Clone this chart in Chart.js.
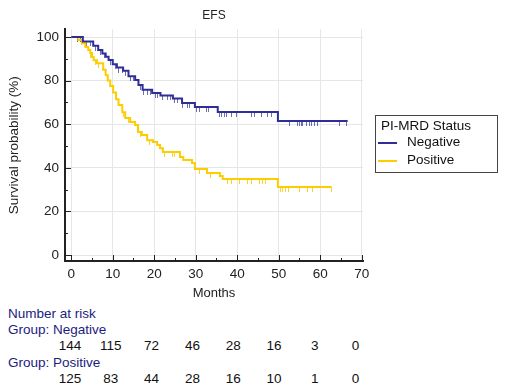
<!DOCTYPE html>
<html>
<head>
<meta charset="utf-8">
<script src="https://cdn.jsdelivr.net/npm/chart.js@4.4.1/dist/chart.umd.min.js"></script>
<style>
  body { margin: 0; background: #fff; font-family: "Liberation Sans", Arial, sans-serif; }
  #wrap { position: relative; width: 520px; height: 390px; overflow: hidden; }
  #plot { position: absolute; left: 0; top: 0; width: 520px; height: 304px; }
  .t { position: absolute; font-size: 13.5px; line-height: 16px; white-space: nowrap; color: #111; }
  .lab { color: #1c1c80; }
  .num { transform: translateX(-50%); }
  #legend { position: absolute; left: 375px; top: 115px; width: 121px; height: 56px; border: 1px solid #444; }
  #legend .sw { position: absolute; left: 2px; width: 19px; height: 2px; }
</style>
</head>
<body>
<div id="wrap">
  <div id="plot"><canvas id="km"></canvas></div>
  <div id="legend"></div>
  <div id="risk"></div>
</div>
<script>
// Kaplan-Meier steps (months, survival %)
const negTimes = [0, 2.8, 5.3, 6.5, 7.5, 8.3, 9, 10, 11, 12.5, 13.8, 15.4, 16.2, 17.2, 19.5, 21.5, 24.5, 26.7, 29.8, 35.3, 49.8, 66.6];
const negSurv  = [100, 98, 96, 94, 92.5, 91, 89.5, 87.5, 86, 84.5, 82, 80.3, 78, 75.8, 74.3, 73.2, 71.8, 69.7, 67.9, 65.6, 61.5, 61.5];
const posTimes = [0, 1.7, 2.6, 3.4, 4.1, 4.6, 5.0, 5.4, 6.2, 7.7, 8.3, 8.8, 9.4, 10.1, 10.8, 11.4, 12.3, 13.0, 14.2, 15.4, 16.1, 17.0, 18.3, 19.7, 20.7, 21.4, 22.1, 26.2, 27.0, 29.1, 29.8, 32.7, 35.8, 36.5, 49.8, 62.7];
const posSurv  = [100, 98.6, 97.2, 95.4, 94, 92.7, 90.8, 89.4, 88, 85, 82.5, 80, 77.5, 74.5, 71.5, 68.8, 65.5, 62.8, 61, 59.6, 56.4, 55, 52.7, 51.8, 50.5, 49, 47.2, 45, 43.6, 42.2, 39.4, 37.6, 36.2, 34.9, 31.2, 31.2];

// censored times (months)
const negCensored = [1.4, 2.2, 3.8, 4.6, 5.8, 7.0, 7.9, 9.4, 10.6, 11.5, 12.3, 13.0, 14.2, 15.0, 16.6, 17.5, 18.3, 19.0, 20.2, 20.9, 22.1, 23.3, 23.8, 25.0, 25.7, 26.9, 28.1, 28.6, 30.3, 31.0, 32.7, 33.0, 35.8, 36.3, 37.0, 37.5, 38.7, 39.9, 43.5, 44.2, 45.9, 47.4, 48.3, 52.6, 54.6, 55.0, 55.5, 55.8, 56.7, 57.5, 58.0, 58.6, 59.4, 64.7, 66.3];
const posCensored = [1.5, 2.5, 4.6, 5.8, 6.5, 8.2, 12.6, 13.7, 15.9, 16.6, 18.8, 22.5, 24.5, 25.0, 31.0, 33.5, 37.7, 38.7, 40.6, 42.5, 43.5, 45.4, 46.2, 46.9, 50.5, 51.0, 51.7, 52.4, 55.0, 57.0, 58.2, 62.7];

const groups = ['Negative', 'Positive'];
const xTicks = [0, 10, 20, 30, 40, 50, 60, 70];
const yTicks = [0, 20, 40, 60, 80, 100];

// number at risk
const riskTimes = [0, 10, 20, 30, 40, 50, 60, 70];
const riskNegative = [144, 115, 72, 46, 28, 16, 3, 0];
const riskPositive = [125, 83, 44, 28, 16, 10, 1, 0];

const NAVY = '#2e2e96';
const GOLD = '#ffcc00';
const FONT = '"Liberation Sans", Arial, sans-serif';

function survAt(times, surv, t) {
    let s = surv[0];
    for (let i = 0; i < times.length; i++) if (times[i] <= t) s = surv[i];
    return s;
}

function tickMark(color) {
    const c = document.createElement('canvas');
    c.width = 1; c.height = 10;
    const g = c.getContext('2d');
    g.fillStyle = color;
    g.fillRect(0, 5, 1, 5);
    return c;
}

const innerTicks = {
    id: 'innerTicks',
    afterDraw(chart) {
        const { ctx, chartArea: a, scales: { x, y } } = chart;
        ctx.save();
        ctx.strokeStyle = '#222';
        ctx.lineWidth = 1;
        ctx.beginPath();
        for (let v = 0; v <= 70; v += 5) {
            const p = Math.round(x.getPixelForValue(v)) + 0.5;
            ctx.moveTo(p, a.bottom);
            ctx.lineTo(p, a.bottom - (v % 10 === 0 ? 6 : 3));
        }
        for (let v = 0; v <= 100; v += 10) {
            const p = Math.round(y.getPixelForValue(v)) + 0.5;
            ctx.moveTo(a.left, p);
            ctx.lineTo(a.left + (v % 20 === 0 ? 6 : 3), p);
        }
        ctx.stroke();
        ctx.restore();
    }
};

new Chart(document.getElementById('km'), {
    type: 'line',
    data: {
        datasets: [
            {
                label: groups[0],
                data: negTimes.map((t, i) => ({ x: t, y: negSurv[i] })),
                borderColor: NAVY, borderWidth: 2, stepped: 'before', pointRadius: 0, fill: false
            },
            {
                label: groups[1],
                data: posTimes.map((t, i) => ({ x: t, y: posSurv[i] })),
                borderColor: GOLD, borderWidth: 2, stepped: 'before', pointRadius: 0, fill: false
            },
            {
                label: groups[0] + ' censored', type: 'scatter',
                data: negCensored.map(t => ({ x: t, y: survAt(negTimes, negSurv, t) })),
                pointStyle: tickMark('rgba(60,60,160,0.75)'), showLine: false
            },
            {
                label: groups[1] + ' censored', type: 'scatter',
                data: posCensored.map(t => ({ x: t, y: survAt(posTimes, posSurv, t) })),
                pointStyle: tickMark('rgba(245,200,0,0.8)'), showLine: false
            }
        ]
    },
    options: {
        responsive: true,
        maintainAspectRatio: false,
        animation: false,
        layout: { padding: { right: 157, top: 0, bottom: 0, left: 0 } },
        plugins: {
            legend: { display: false },
            tooltip: { enabled: false },
            title: {
                display: true, text: 'EFS', fullSize: false, color: '#222',
                font: { family: FONT, size: 12, weight: 'normal' },
                padding: { top: 8, bottom: 7 }
            }
        },
        scales: {
            x: {
                type: 'linear', min: -1.5, max: 70.3,
                afterBuildTicks: s => { s.ticks = xTicks.map(v => ({ value: v })); },
                afterFit: s => { s.height = 43; },
                grid: { color: '#e6e6e6', drawTicks: false },
                border: { color: '#222', width: 2 },
                ticks: { color: '#222', padding: 5, font: { family: FONT, size: 13.5 } },
                title: {
                    display: true, text: 'Months', color: '#222',
                    font: { family: FONT, size: 13 }, padding: { top: 3, bottom: 3 }
                }
            },
            y: {
                min: -2.75, max: 103.5,
                afterBuildTicks: s => { s.ticks = yTicks.map(v => ({ value: v })); },
                afterFit: s => { s.width = 65; },
                grid: { color: '#e6e6e6', drawTicks: false },
                border: { color: '#222', width: 2 },
                ticks: { color: '#222', padding: 6, font: { family: FONT, size: 13.5 } },
                title: {
                    display: true, text: 'Survival probability (%)', color: '#222',
                    font: { family: FONT, size: 13.5 }, padding: { top: 6, bottom: 0 }
                }
            }
        }
    },
    plugins: [innerTicks]
});

// legend box
const legend = document.getElementById('legend');
legend.innerHTML =
    '<div class="t" style="left:5px;top:2px">PI-MRD Status</div>' +
    groups.map((g, i) =>
        `<div class="sw" style="top:${26 + i * 18}px;background:${[NAVY, GOLD][i]}"></div>` +
        `<div class="t" style="left:31px;top:${18 + i * 18}px">${g}</div>`).join('');

// number at risk table
const risk = document.getElementById('risk');
let html = '<div class="t lab" style="left:8px;top:306px">Number at risk</div>';
[[riskNegative, 'Negative', 338], [riskPositive, 'Positive', 371]].forEach(([vals, name, top]) => {
    html += `<div class="t lab" style="left:8px;top:${top - 16}px">Group: ${name}</div>`;
    vals.forEach((v, i) => {
        html += `<div class="t num" style="left:${70 + i * 40.8}px;top:${top}px">${v}</div>`;
    });
});
risk.innerHTML = html;
</script>
</body>
</html>
